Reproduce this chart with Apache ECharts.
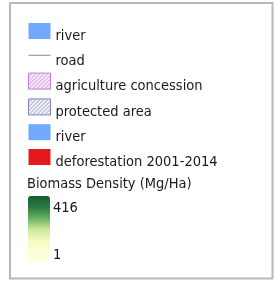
<!DOCTYPE html>
<html>
<head>
<meta charset="utf-8">
<script src="https://cdn.jsdelivr.net/npm/echarts@6/dist/echarts.min.js"></script>
<style>
html,body{margin:0;padding:0;background:#fff}
#chart{width:280px;height:281px}
</style>
</head>
<body>
<div id="chart"></div>
<script>
// legend entries, top to bottom
var legendNames = ['river', 'road', 'agriculture concession', 'protected area', 'river', 'deforestation 2001-2014']
var legendKinds = ['fill', 'line', 'hatch', 'hatch', 'fill', 'fill']
var legendColors = ['#72a9ff', '#8c8c8c', '#f6e6f8', '#f4f4fa', '#72a9ff', '#e3191e']
var hatchColors = [null, null, '#cf9be0', '#8e94c4', null, null]
var borderColors = [null, null, '#b584d8', '#7f86b8', null, null]

// biomass colour ramp (low -> high) and its labels
var biomassTitle = 'Biomass Density (Mg/Ha)'
var biomassRange = [1, 416]
var biomassColors = ['#fffee8', '#fdfedb', '#f6fabf', '#cde99a', '#68b25e', '#2c7a43', '#1b5b33']

var font = '"DejaVu Sans Condensed", "DejaVu Sans", sans-serif'

// icons sit in the top 16px of a 26px slot so the label lands near the swatch bottom (qgis look)
var rectIcon = 'path://M0,0L22,0L22,16L0,16ZM22,26L22,26'
var lineIcon = 'path://M0,0L0,0M0,7L22,7L22,8L0,8ZM22,26L22,26'

// little diagonal hatch tile, like the qgis symbol
const hatch = (bg, line) => {
    var c = document.createElement('canvas')
    c.width = 4; c.height = 4
    var ctx = c.getContext('2d')
    ctx.fillStyle = bg
    ctx.fillRect(0, 0, 4, 4)
    ctx.strokeStyle = line
    ctx.lineWidth = 1
    ctx.beginPath()
    ctx.moveTo(0, 4); ctx.lineTo(4, 0)
    ctx.moveTo(-1, 1); ctx.lineTo(1, -1)
    ctx.moveTo(3, 5); ctx.lineTo(5, 3)
    ctx.stroke()
    return {image: c, repeat: 'repeat'}
}

var series = [], legendData = []
legendNames.forEach((name, i) => {
    var id = 'item' + i
    var s = {name: id, type: 'bar', data: [], itemStyle: {color: legendColors[i]}}
    var item = {name: id, icon: legendKinds[i] == 'line' ? lineIcon : rectIcon}
    if (legendKinds[i] == 'hatch') {
        s.itemStyle = {color: hatch(legendColors[i], hatchColors[i]), borderColor: borderColors[i], borderWidth: 1}
        item.itemStyle = {borderWidth: 1}
    }
    series.push(s)
    legendData.push(item)
})

var chart = echarts.init(document.getElementById('chart'), null, {renderer: 'canvas'})
chart.setOption({
    animation: false,
    backgroundColor: '#fff',
    grid: {show: true, left: 10, top: 3, right: 7.5, bottom: 2.5, borderColor: '#b8b8b8', borderWidth: 2, backgroundColor: '#fff'},
    xAxis: {type: 'category', show: false},
    yAxis: {type: 'value', show: false},
    title: {
        text: biomassTitle, left: 27, top: 177, padding: 0,
        textStyle: {fontFamily: font, fontSize: 14.5, fontWeight: 'normal', color: '#1a1a1a'}
    },
    legend: {
        orient: 'vertical', left: 28, top: 23, padding: 0,
        itemWidth: 22, itemHeight: 26, itemGap: -1.2,
        selectedMode: false,
        data: legendData,
        formatter: n => legendNames[+n.slice(4)],
        textStyle: {fontFamily: font, fontSize: 14.5, color: '#1a1a1a'}
    },
    visualMap: {
        type: 'continuous', seriesIndex: [],
        min: -65, max: 521, range: biomassRange,
        calculable: true, hoverLink: false, align: 'left',
        left: 28, top: 188.5, padding: 0,
        itemWidth: 22, itemHeight: 67,
        handleSize: 14, handleStyle: {opacity: 0, borderWidth: 0, shadowBlur: 0},
        inRange: {color: biomassColors},
        outOfRange: {color: biomassColors},
        textStyle: {fontFamily: font, fontSize: 14.5, color: '#1a1a1a'}
    },
    series: series
})
</script>
</body>
</html>
